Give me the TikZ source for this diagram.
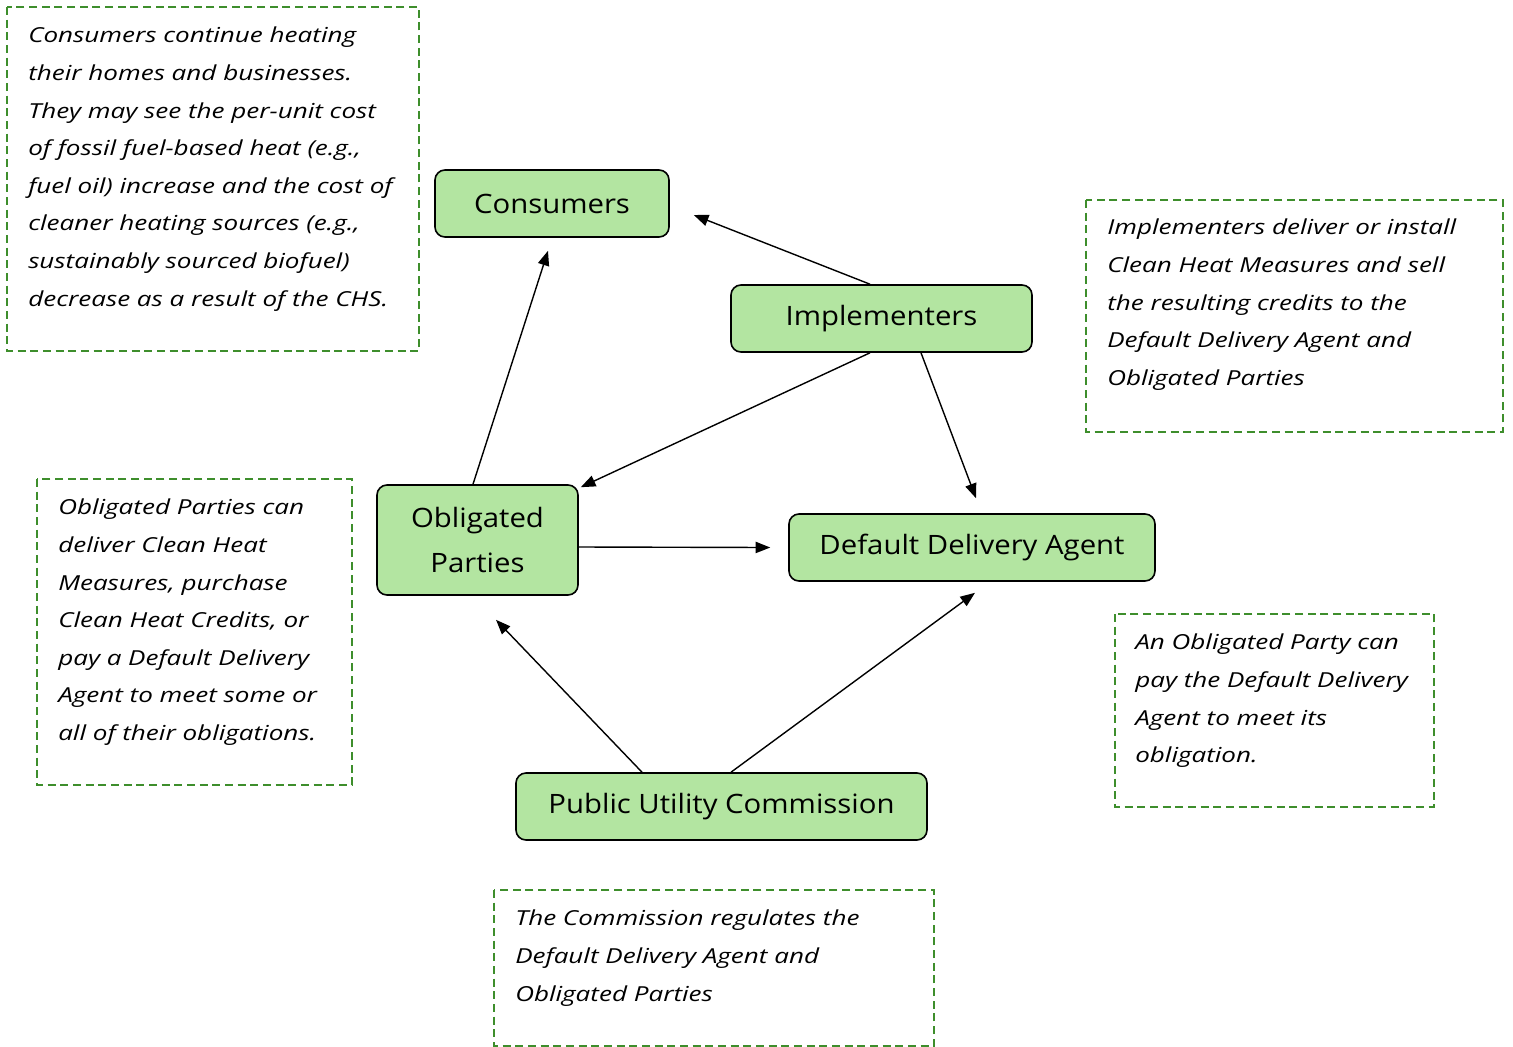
\documentclass[tikz,border=0pt]{standalone}
\usepackage{fontspec}
\setmainfont{Open Sans}
\newfontfamily\entfont[FakeStretch=1.10]{Open Sans}
\newfontfamily\notefont[FakeStretch=1.26]{Open Sans}
\usetikzlibrary{arrows.meta,calc}
\definecolor{boxfill}{HTML}{B3E5A1}
\definecolor{dashgreen}{HTML}{3E8E2C}
\begin{document}
\begin{tikzpicture}[x=0.75pt,y=-0.75pt,
  ent/.style={draw, line width=1.2pt, fill=boxfill, rounded corners=7.5pt,
    font=\entfont\fontsize{20}{33.5}\selectfont, align=center, inner sep=0pt},
  arr/.style={-{Triangle[length=11pt,width=8.5pt]}, line width=1.05pt},
  note/.style={draw=dashgreen, line width=1.6pt, dash pattern=on 6pt off 3.5pt},
  notetext/.style={anchor=north west, inner sep=0pt, align=left,
    font=\notefont\itshape\fontsize{15.5}{28.2}\selectfont}]
\useasboundingbox (0,0) rectangle (1513,1046);

% entity boxes
\node[ent, minimum width={234*0.75pt}, minimum height={67*0.75pt}] (cons) at (552,203.5) {Consumers};
\node[ent, minimum width={301*0.75pt}, minimum height={67*0.75pt}] (impl) at (881.5,318.5) {Implementers};
\node[ent, minimum width={201*0.75pt}, minimum height={110*0.75pt}] (obl) at (477.5,540) {Obligated\\Parties};
\node[ent, minimum width={366*0.75pt}, minimum height={67*0.75pt}] (dda) at (972,547.5) {Default Delivery Agent};
\node[ent, minimum width={411*0.75pt}, minimum height={67*0.75pt}] (puc) at (721.5,806.5) {Public Utility Commission};

% connectors
\draw[arr] ($(impl.north)+(-11.5,0)$) -- ($(cons.east)+(24,11.5)$);
\draw[arr] ($(obl.north)+(-4.5,0)$) -- ($(cons.south)+(-4,13)$);
\draw[arr] ($(impl.south)+(-11.5,0)$) -- ($(obl.north east)+(2,3)$);
\draw[arr] ($(impl.south)+(39.5,0)$) -- ($(dda.north)+(4,-15)$);
\draw[arr] ($(obl.east)+(0,7)$) -- ($(dda.west)+(-18,0)$);
\draw[arr] ($(puc.north)+(-79.5,0)$) -- ($(obl.south)+(18.5,24)$);
\draw[arr] ($(puc.north)+(9.5,0)$) -- ($(dda.south)+(3,11)$);

% notes
\draw[note] (7,7) rectangle (419,351);
\node[notetext] (n1) at (28,27) {Consumers continue heating\\their homes and businesses.\\They may see the per-unit cost\\of fossil fuel-based heat (e.g.,\\fuel oil) increase and the cost of\\cleaner heating sources (e.g.,\\sustainably sourced biofuel)\\decrease as a result of the CHS.};

\draw[note] (1086,200) rectangle (1503,432);
\node[notetext] (n2) at (1107,219) {Implementers deliver or install\\Clean Heat Measures and sell\\the resulting credits to the\\Default Delivery Agent and\\Obligated Parties};

\draw[note] (37,479) rectangle (352,785);
\node[notetext] (n3) at (58,499) {Obligated Parties can\\deliver Clean Heat\\Measures, purchase\\Clean Heat Credits, or\\pay a Default Delivery\\Agent to meet some or\\all of their obligations.};

\draw[note] (1115,614) rectangle (1434,807);
\node[notetext] (n4) at (1135,634) {An Obligated Party can\\pay the Default Delivery\\Agent to meet its\\obligation.};

\draw[note] (494,890) rectangle (934,1046);
\node[notetext] (n5) at (515,910) {The Commission regulates the\\Default Delivery Agent and\\Obligated Parties};
\end{tikzpicture}
\end{document}
